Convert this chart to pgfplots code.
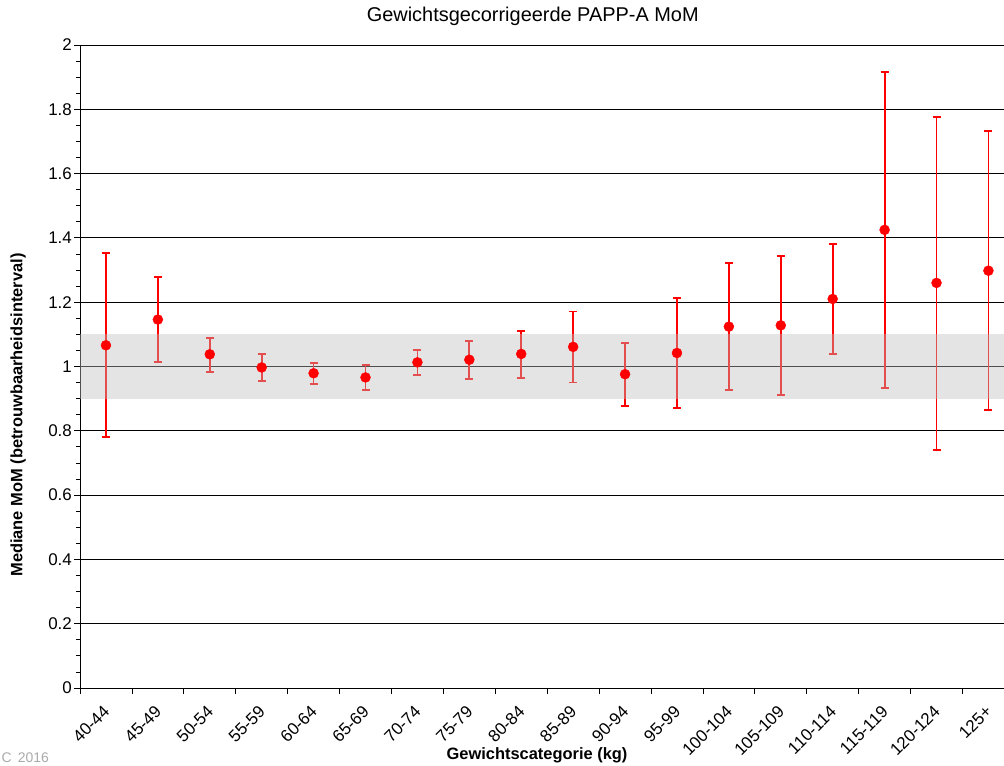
\documentclass[border=0pt]{standalone}
\usepackage{fontspec}
\setmainfont{Liberation Sans}
\usepackage{pgfplots}
\usepackage{pgfplotstable}
\pgfplotsset{compat=1.18}

\definecolor{bandgray}{RGB}{190,190,190}
\definecolor{mred}{RGB}{255,0,0}
\definecolor{notegray}{RGB}{170,170,170}

% median MoM per weight class with lower and upper interval bounds
\pgfplotstableread{
x  y      lo     hi
0  1.066  0.780  1.352
1  1.146  1.013  1.278
2  1.038  0.983  1.089
3  0.997  0.954  1.039
4  0.979  0.946  1.012
5  0.966  0.928  1.004
6  1.013  0.973  1.052
7  1.021  0.960  1.080
8  1.039  0.965  1.111
9  1.061  0.950  1.171
10 0.976  0.877  1.074
11 1.042  0.870  1.213
12 1.124  0.926  1.322
13 1.128  0.912  1.344
14 1.210  1.039  1.381
15 1.425  0.932  1.917
16 1.260  0.741  1.776
17 1.298  0.865  1.732
}\momdata

\begin{document}
\begin{tikzpicture}
\path[use as bounding box] (-80bp,-78bp) rectangle (924bp,688bp);
\begin{axis}[
  at={(0,0)}, anchor=south west,
  scale only axis, width=924bp, height=643bp,
  xmin=-0.5, xmax=17.3, ymin=0, ymax=2,
  axis lines=left, axis line style={-, black, line width=0.9bp},
  ytick={0,0.2,0.4,0.6,0.8,1,1.2,1.4,1.6,1.8,2},
  minor y tick num=3,
  ymajorgrids, major grid style={black, line width=0.8bp},
  tick align=outside, tick style={black, line width=0.8bp},
  major tick length=6bp, minor tick length=4bp,
  /pgf/number format/assume math mode=true,
  /pgf/number format/fixed,
  yticklabel style={font=\fontsize{17}{20}\selectfont, inner sep=2bp},
  xtick={-0.5,0.5,...,16.5}, xticklabels={},
  extra x ticks={0,1,...,17},
  extra x tick labels={40-44,45-49,50-54,55-59,60-64,65-69,70-74,75-79,80-84,85-89,90-94,95-99,100-104,105-109,110-114,115-119,120-124,125+},
  extra x tick style={major tick length=0pt,
    tick label style={font=\fontsize{17}{20}\selectfont, rotate=45, anchor=east, xshift=-11bp, yshift=-15bp}},
  title={Gewichtsgecorrigeerde PAPP-A MoM},
  title style={font=\fontsize{20}{24}\selectfont, at={(axis description cs:0.490,1.036)}, anchor=center},
  xlabel={Gewichtscategorie (kg)},
  xlabel style={font=\fontsize{16.5}{20}\selectfont\bfseries, at={(axis description cs:0.4946,-0.1042)}, anchor=center},
  ylabel={Mediane MoM (betrouwbaarheidsinterval)},
  ylabel style={font=\fontsize{16.5}{20}\selectfont\bfseries, at={(axis description cs:-0.0671,0.4246)}, anchor=center, rotate=0},
  clip=true,
]
\addplot[only marks, mark=*, mark size=5bp, color=mred,
  error bars/.cd, y dir=both, y explicit,
  error bar style={draw=mred, line width=1.8bp},
  error mark options={rotate=90, mark size=4bp, line width=1.8bp, draw=mred}]
  table[x=x, y=y,
        y error plus expr=\thisrow{hi}-\thisrow{y},
        y error minus expr=\thisrow{y}-\thisrow{lo}] {\momdata};
% reference band 0.9 - 1.1, laid over the markers
\addplot[draw=none, fill=bandgray, fill opacity=0.42, forget plot]
  coordinates {(-1,0.9) (18,0.9) (18,1.1) (-1,1.1)} -- cycle;
\end{axis}
\node[anchor=west, text=notegray, font=\fontsize{14}{17}\selectfont, inner sep=0pt] at (-78.5bp,-70bp) {C\hspace{6bp}2016};
\end{tikzpicture}
\end{document}
